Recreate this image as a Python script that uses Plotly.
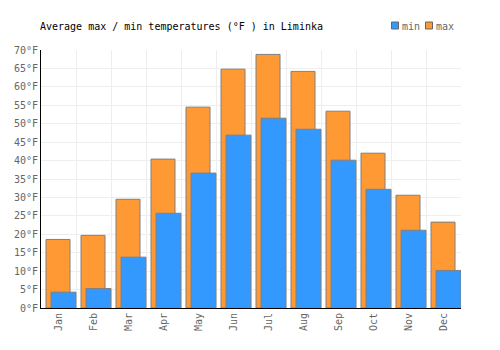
import plotly.graph_objects as go

months = ["Jan", "Feb", "Mar", "Apr", "May", "Jun", "Jul", "Aug", "Sep", "Oct", "Nov", "Dec"]
max_temps = [18.6, 19.7, 29.5, 40.4, 54.5, 64.8, 68.8, 64.2, 53.4, 42.0, 30.6, 23.3]
min_temps = [4.3, 5.3, 13.8, 25.7, 36.6, 46.9, 51.5, 48.5, 40.1, 32.2, 21.1, 10.2]
series_names = ["min", "max"]
series_colors = ["#3399FF", "#FF9933"]

font_family = "DejaVu Sans Mono"
W, H = 500, 350
L, R, T, B = 41, 39, 50, 42
pw, ph = W - L - R, H - T - B

def px_x(x):
    return (x - L) / pw

def px_y(y):
    return (H - B - y) / ph

fig = go.Figure()
fig.add_trace(go.Bar(
    x=months, y=max_temps, name="max",
    marker=dict(color=series_colors[1], line=dict(color="#808080", width=1)),
    offset=-0.357, width=0.686, showlegend=False,
))
fig.add_trace(go.Bar(
    x=months, y=min_temps, name="min",
    marker=dict(color=series_colors[0], line=dict(color="#808080", width=1)),
    offset=-0.214, width=0.714, showlegend=False,
))

# custom legend (small squares + labels)
legend_x = [391.5, 425.5]
shapes = []
annotations = []
for name, color, lx in zip(series_names, series_colors, legend_x):
    shapes.append(dict(type="rect", xref="paper", yref="paper",
                       x0=px_x(lx), x1=px_x(lx + 7), y0=px_y(29), y1=px_y(22),
                       fillcolor=color, line=dict(color="#666666", width=1)))
    annotations.append(dict(text=name, xref="paper", yref="paper",
                            x=px_x(lx + 8.5), y=px_y(26), xanchor="left", yanchor="middle",
                            showarrow=False,
                            font=dict(family=font_family, size=10, color="#666666")))

fig.update_layout(
    width=W, height=H,
    barmode="overlay",
    margin=dict(l=L, r=R, t=T, b=B, autoexpand=False),
    paper_bgcolor="white", plot_bgcolor="white",
    font=dict(family=font_family, size=10, color="#666666"),
    title=dict(text="Average max / min temperatures (°F ) in Liminka",
               x=40/W, xanchor="left", y=1-26/H, yanchor="middle",
               font=dict(family=font_family, size=10, color="#000000")),
    showlegend=False,
    shapes=shapes,
    annotations=annotations,
    xaxis=dict(showgrid=True, gridcolor="#eeeeee", gridwidth=1,
               tickangle=-90, showline=True, linecolor="#000000", linewidth=1,
               ticks="", tickson="boundaries", fixedrange=True,
               range=[-0.5, 11.5], automargin=False),
    yaxis=dict(range=[0, 70], dtick=5, ticksuffix="°F", showgrid=True,
               gridcolor="#eeeeee", gridwidth=1, showline=True,
               linecolor="#000000", linewidth=1, ticks="", zeroline=False,
               automargin=False),
)

fig.write_html("out.html")
